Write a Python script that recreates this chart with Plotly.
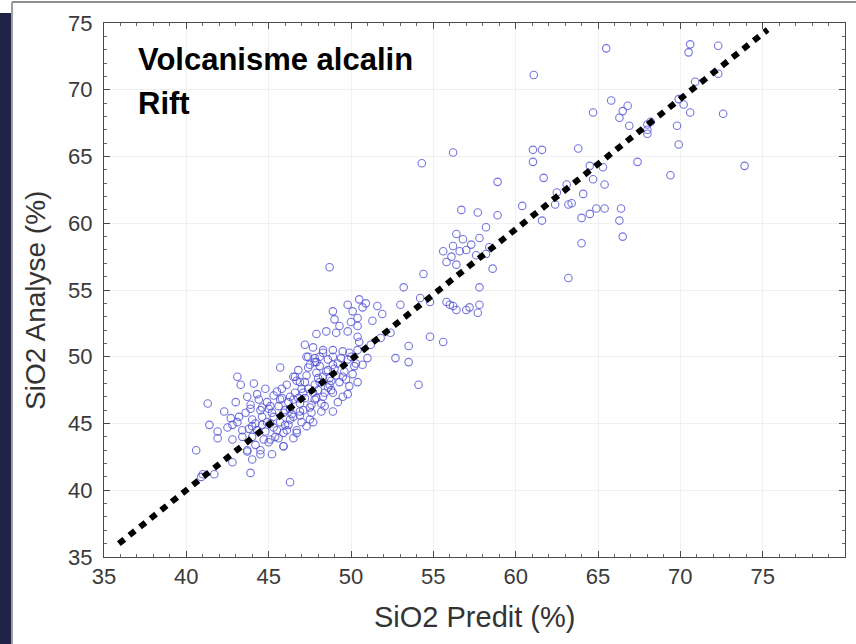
import plotly.graph_objects as go

# ---- data (SiO2 predicted vs analysed, %) ----
high_x = [65.5, 70.6, 70.5, 72.3, 72.3, 70.9, 65.8, 66.8, 66.5, 64.7, 66.3, 66.9, 68.0, 68.2, 68.0,
          69.8, 69.9, 70.2, 70.6, 72.6, 69.9, 67.4, 69.4, 73.9, 63.8, 61.1, 61.05, 61.6, 61.05, 61.7,
          64.5, 65.3, 64.7, 65.4, 63.1, 64.1, 63.2, 63.4, 62.4, 60.4, 61.6, 64.0, 64.5, 64.9, 65.4,
          66.4, 66.3, 66.5, 64.0, 63.2, 62.5, 68.0]
high_y = [73.1, 73.4, 72.8, 73.3, 71.2, 70.6, 69.2, 68.8, 68.4, 68.3, 67.9, 67.3, 67.4, 67.6, 66.7,
          67.3, 69.3, 68.9, 68.3, 68.2, 65.9, 64.6, 63.6, 64.3, 65.6, 71.1, 65.5, 65.5, 64.6, 63.4,
          64.3, 64.2, 63.3, 62.9, 62.9, 62.2, 61.4, 61.5, 61.4, 61.3, 60.2, 60.4, 60.7, 61.1, 61.1,
          61.1, 60.2, 59.0, 58.5, 55.9, 62.3, 67.0]

mid_x = [54.3, 56.2, 58.9, 56.7, 57.7, 58.9, 58.2, 56.4, 56.8, 57.3, 57.8, 58.4, 58.2, 57.6, 57.0,
         56.2, 55.6, 56.1, 56.6, 55.8, 56.4, 58.6, 54.4, 53.2, 57.8, 53.0, 54.2, 54.8, 55.8, 56.0,
         56.4, 56.2, 57.0, 57.7, 57.8, 57.2, 54.8, 55.6, 53.5, 52.7, 53.5, 54.1]
mid_y = [64.5, 65.3, 63.1, 61.0, 60.8, 60.6, 59.7, 59.2, 58.8, 58.4, 58.9, 58.2, 57.7, 57.6, 58.0,
         58.3, 57.9, 57.5, 57.9, 57.1, 56.9, 56.6, 56.2, 55.2, 55.2, 53.9, 54.4, 54.1, 54.1, 53.9,
         53.5, 53.8, 53.5, 53.3, 53.9, 53.7, 51.5, 51.1, 50.8, 49.9, 49.6, 47.9]

upper_x = [48.7, 49.8, 50.5, 50.7, 50.1, 48.9, 50.4, 51.6, 51.9, 50.4, 47.9, 48.5, 49.1, 49.8, 50.4,
           50.5, 47.2, 47.7, 48.3, 48.9, 49.5, 51.2, 51.8, 52.4, 49.9, 51.0, 50.7, 47.4, 47.8, 48.6,
           50.9, 51.3, 49.3, 49.0, 50.0, 47.3, 47.8, 48.3, 48.9, 47.5, 48.1, 48.9, 49.8, 50.4, 45.7]
upper_y = [56.7, 53.9, 54.3, 53.7, 53.4, 53.4, 52.9, 53.8, 53.2, 52.3, 51.7, 51.9, 51.8, 51.9, 51.5,
           51.1, 50.9, 50.7, 50.5, 50.5, 50.4, 50.9, 51.4, 51.8, 50.3, 49.9, 49.4, 50.0, 49.6, 49.8,
           54.0, 52.7, 52.3, 52.8, 52.6, 50.0, 49.9, 50.3, 50.0, 49.4, 49.3, 49.4, 49.8, 50.5, 49.2]

core_x = [46.5, 47.2, 47.8, 48.3, 48.8, 49.5, 49.8, 48.2, 48.9, 47.5, 46.7, 46.9, 48.1, 48.7, 49.3,
          48.9, 48.3, 47.7, 43.7, 44.3, 43.9, 44.5, 45.1, 45.7, 46.3, 45.3, 44.9, 45.7, 46.1, 46.7,
          46.5, 45.9, 44.5, 44.8, 45.4, 45.0, 44.6, 45.9, 46.3, 46.9, 47.2, 47.6, 46.6, 45.8, 45.3,
          44.8, 44.1, 46.9, 47.3, 46.0, 45.5, 44.3, 43.8, 44.0, 44.6, 45.2, 45.6, 46.3, 47.9, 48.4,
          49.1, 49.6, 48.6, 47.9, 47.4, 46.8, 47.0, 48.0, 48.8, 50.1, 50.3, 49.2, 47.1, 46.5, 44.4,
          43.6, 43.2, 42.7, 42.5, 44.9, 45.5, 46.1, 46.7, 47.3, 47.7, 48.5, 49.4, 48.1, 46.2, 45.1,
          45.9, 46.5, 47.0, 47.6, 48.4, 49.2, 49.9, 50.4, 44.2, 43.9, 44.7, 45.6, 46.0, 46.8, 47.4,
          48.0, 48.7, 49.5, 50.0, 45.0, 45.8, 46.4, 47.1, 47.8, 48.6, 49.0, 44.6, 45.3, 46.2, 46.9,
          47.5, 48.2, 49.7, 50.2, 44.0, 45.1, 46.6, 47.9]
core_y = [48.5, 48.1, 47.9, 48.5, 47.5, 47.0, 47.2, 45.9, 45.9, 45.3, 44.5, 48.1, 48.1, 48.4, 48.1,
          47.3, 47.0, 45.1, 47.0, 47.2, 46.4, 46.0, 46.3, 46.8, 47.0, 45.5, 45.1, 45.1, 44.5, 44.3,
          45.5, 43.3, 43.0, 44.4, 44.0, 43.6, 44.9, 45.8, 46.1, 46.5, 46.9, 46.4, 47.3, 47.6, 47.1,
          47.6, 48.0, 45.6, 44.8, 44.9, 44.5, 44.5, 44.6, 45.3, 45.5, 45.8, 46.3, 45.3, 46.9, 47.3,
          48.6, 48.9, 49.0, 48.8, 49.2, 49.0, 47.6, 47.5, 48.2, 48.7, 49.5, 49.5, 46.0, 46.8, 46.8,
          45.8, 45.5, 45.4, 44.7, 46.6, 47.4, 47.9, 48.2, 48.6, 47.3, 48.9, 49.9, 50.0, 46.6, 45.0,
          44.3, 43.9, 45.1, 45.8, 46.3, 46.6, 47.8, 48.1, 45.0, 46.1, 43.8, 43.9, 46.0, 46.9, 47.6,
          48.4, 47.9, 48.5, 50.0, 46.1, 46.9, 45.7, 47.3, 46.8, 47.7, 49.1, 46.2, 44.7, 44.9, 45.9,
          46.2, 46.5, 48.3, 49.3, 44.8, 43.8, 48.5, 49.6]

low_x = [43.1, 43.3, 41.3, 42.3, 43.0, 41.4, 41.9, 41.9, 42.8, 43.1, 43.4, 42.8, 43.4, 44.0, 44.2,
         43.7, 40.6, 42.8, 43.9, 44.0, 45.2, 40.9, 41.7, 41.0, 46.3, 43.7, 44.5, 45.9]
low_y = [48.5, 47.9, 46.5, 45.9, 46.6, 44.9, 44.4, 43.9, 44.9, 45.1, 44.5, 43.8, 44.0, 44.0, 43.4,
         43.0, 43.0, 42.1, 41.3, 42.3, 42.7, 41.0, 41.2, 41.2, 40.6, 42.9, 42.7, 43.3]

line_x = [35.9, 75.3]
line_y = [36.0, 74.5]

x_ticks = [35, 40, 45, 50, 55, 60, 65, 70, 75, 80]
y_ticks = [35, 40, 45, 50, 55, 60, 65, 70, 75]

all_x = high_x + mid_x + upper_x + core_x + low_x
all_y = high_y + mid_y + upper_y + core_y + low_y

FONT = "Arial, Liberation Sans, sans-serif"

fig = go.Figure()
fig.add_trace(go.Scatter(
    x=all_x, y=all_y, mode="markers",
    marker=dict(symbol="circle-open", size=7.5, color="rgba(80,80,215,0.8)", line=dict(width=1.1)),
    hoverinfo="x+y", showlegend=False))
fig.add_trace(go.Scatter(
    x=line_x, y=line_y, mode="lines",
    line=dict(color="black", width=6, dash="7px,6.5px"),
    hoverinfo="skip", showlegend=False))

axis_common = dict(
    showline=True, linecolor="#4a4a4a", linewidth=1, mirror="ticks",
    ticks="inside", ticklen=6, tickcolor="#4a4a4a", tickwidth=1,
    showgrid=True, gridcolor="#f0f0f0", gridwidth=1, zeroline=False,
    tickfont=dict(family=FONT, size=22, color="#3a3a3a"),
    minor=dict(dtick=1, ticks="inside", ticklen=3, tickcolor="#666666", showgrid=False),
)
fig.update_xaxes(range=[35, 80], tickvals=x_ticks, **axis_common)
fig.update_yaxes(range=[35, 75], tickvals=y_ticks, ticklabelstandoff=6, **axis_common)

W, H = 856, 644
L, R, T, B = 104, 11, 23, 87
pw, ph = W - L - R, H - T - B


def px_x(p):
    return (p - L) / pw


def px_y(p):
    return (H - B - p) / ph


shapes = [
    dict(type="rect", xref="paper", yref="paper", x0=px_x(0), x1=px_x(11), y0=px_y(13), y1=px_y(H),
         fillcolor="#1f2348", line=dict(width=0), layer="above"),
    dict(type="line", xref="paper", yref="paper", x0=px_x(12), x1=px_x(12), y0=px_y(2), y1=px_y(H),
         line=dict(color="#a0a0a0", width=2)),
    dict(type="line", xref="paper", yref="paper", x0=px_x(12), x1=px_x(W), y0=px_y(2), y1=px_y(2),
         line=dict(color="#909090", width=2)),
]

annotations = [
    dict(text="<b>Volcanisme alcalin</b>", xref="paper", yref="paper", x=px_x(136), y=px_y(60),
         xanchor="left", yanchor="middle", showarrow=False,
         font=dict(family=FONT, size=31, color="black")),
    dict(text="<b>Rift</b>", xref="paper", yref="paper", x=px_x(136), y=px_y(103),
         xanchor="left", yanchor="middle", showarrow=False,
         font=dict(family=FONT, size=31, color="black")),
    dict(text="SiO2 Predit (%)", xref="paper", yref="paper", x=px_x(474), y=px_y(617),
         xanchor="center", yanchor="middle", showarrow=False,
         font=dict(family=FONT, size=29, color="#333333")),
    dict(text="SiO2 Analyse (%)", xref="paper", yref="paper", x=px_x(36), y=px_y(301),
         xanchor="center", yanchor="middle", showarrow=False, textangle=-90,
         font=dict(family=FONT, size=28, color="#333333")),
]

fig.update_layout(
    width=W, height=H, margin=dict(l=L, r=R, t=T, b=B),
    paper_bgcolor="white", plot_bgcolor="white",
    shapes=shapes, annotations=annotations, showlegend=False,
)

fig.write_html("out.html")
